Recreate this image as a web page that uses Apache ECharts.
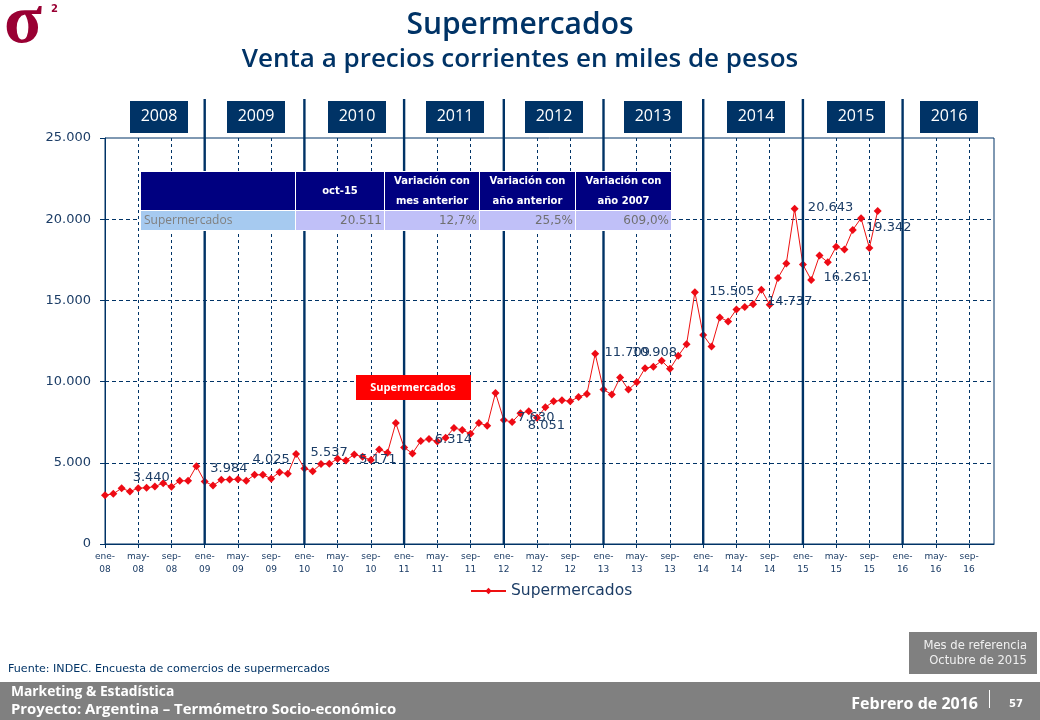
<!DOCTYPE html>
<html><head><meta charset="utf-8">
<style>html,body{margin:0;padding:0;background:#fff}#c{width:1040px;height:720px}</style>
<script src="https://cdn.jsdelivr.net/npm/echarts@6/dist/echarts.min.js"></script>
</head><body><div id="c"></div>
<script>
const monthNames = ['ene','feb','mar','abr','may','jun','jul','ago','sep','oct','nov','dic'];
const firstYear = 2008, yearCount = 9;
const yearLabels = ['2008','2009','2010','2011','2012','2013','2014','2015','2016'];
const values2008 = [3005,3087,3437,3231,3440,3457,3540,3745,3519,3890,3890,4795];
const values2009 = [3848,3600,3951,3972,3984,3890,4260,4260,4025,4425,4322,5537];
const values2010 = [4651,4486,4919,4939,5248,5145,5515,5371,5171,5824,5618,7450];
const values2011 = [5948,5577,6339,6462,6314,6544,7141,7018,6791,7450,7285,9302];
const values2012 = [7630,7512,8051,8170,7779,8417,8788,8849,8788,9055,9240,11709];
const values2013 = [9508,9199,10249,9508,9961,10825,10908,11278,10784,11587,12307,15505];
const values2014 = [12862,12163,13953,13706,14447,14591,14756,15661,14737,16382,17267,20643];
const values2015 = [17205,16261,17761,17349,18296,18131,19342,20066,18234,20511];
const labelledMonths = [4,16,20,23,32,40,48,50,59,66,71,80,83,85,90];
const labelOffsets = [[13,-11],[-9,-11],[0,-19],[33,-1],[7,0],[16,-2],[32,-2],[26,12],[32,-1],[1,-14],[37,-1],[20,-3],[36,-1],[35,-2],[36,-2]];
const tableHeaders = ['', 'oct-15', 'Variación con\nmes anterior', 'Variación con\naño anterior', 'Variación con\naño 2007'];
const tableRow = ['Supermercados', '20.511', '12,7%', '25,5%', '609,0%'];

const seriesName = 'Supermercados';
const NAVY = '#003366';
const fmt = v => String(v).replace(/\B(?=(\d{3})+(?!\d))/g, '.');
const categories = [];
for (let i = 0; i < yearCount * 12; i++) {
  categories.push(monthNames[i % 12] + '-\n' + String(firstYear + Math.floor(i / 12)).slice(2));
}
const allValues = [].concat(values2008, values2009, values2010, values2011, values2012, values2013, values2014, values2015);
const seriesData = allValues.map((v, i) => {
  const k = labelledMonths.indexOf(i);
  if (k < 0) return v;
  return { value: v, label: { show: true, position: 'inside', offset: labelOffsets[k], formatter: fmt(v),
    color: '#1c3d66', fontFamily: 'DejaVu Sans', fontSize: 13 } };
});
const yearStarts = [];
for (let i = 1; i < yearCount; i++) yearStarts.push([i * 12]);

const g = [];
const rect = (x, y, w, h, fill, z) => g.push({ type: 'rect', z: z || 100, silent: true, shape: { x, y, width: w, height: h }, style: { fill } });
const text = (t, x, y, font, fill, align, z, lh) => g.push({ type: 'text', z: z || 110, silent: true, x, y,
  style: { text: t, font, fill, align: align || 'left', verticalAlign: 'middle', lineHeight: lh } });

// logo
text('σ', 4, 24, 'bold 70px "Liberation Serif"', '#990033');
text('2', 51, 9, 'bold 10px "DejaVu Sans"', '#990033');
// titles
text('Supermercados', 520, 25, '600 30px "Open Sans"', NAVY, 'center');
text('Venta a precios corrientes en miles de pesos', 520, 60, '600 26px "Open Sans"', NAVY, 'center');
// year boxes
const yearBoxX = [130,227,328,426,525,624,727,827,920];
yearLabels.forEach((y, i) => {
  rect(yearBoxX[i], 101, 58, 32, NAVY);
  text(y, yearBoxX[i] + 29, 116, '16px "Open Sans"', '#fff', 'center');
});
// table
rect(140, 171, 532, 60, '#fff', 90);
const colX = [141,296,385,480,576], colW = [154,88,94,95,95];
const rowFill = ['#a6caf0','#c0c0f8','#c0c0f8','#c0c0f8','#c0c0f8'];
colX.forEach((x, i) => {
  rect(x, 172, colW[i], 38, '#000080');
  rect(x, 211, colW[i], 19, rowFill[i]);
  if (tableHeaders[i]) text(tableHeaders[i], x + colW[i] / 2, 191, 'bold 10px "DejaVu Sans"', '#fff', 'center', 110, 20);
  if (i === 0) text(tableRow[i], x + 3, 221, '12px "Open Sans"', '#808080');
  else text(tableRow[i], x + colW[i] - 2, 221, '12px "DejaVu Sans"', '#707070', 'right');
});
// red tag
rect(356, 375, 115, 25, '#ff0000');
text('Supermercados', 413, 388, 'bold 11px "Open Sans"', '#fff', 'center');
// source
text('Fuente: INDEC. Encuesta de comercios de supermercados', 8, 669, '11.1px "DejaVu Sans"', NAVY);
// reference box
rect(909, 632, 128, 42, '#808080');
text('Mes de referencia', 1027, 646, '11.6px "DejaVu Sans"', '#f0f0f0', 'right');
text('Octubre de 2015', 1027, 661, '11.6px "DejaVu Sans"', '#f0f0f0', 'right');
// footer
rect(0, 682, 1040, 38, '#808080');
text('Marketing & Estadística', 11, 692, 'bold 13.8px "Open Sans"', '#fff');
text('Proyecto: Argentina – Termómetro Socio-económico', 11, 710, 'bold 14.9px "Open Sans"', '#fff');
text('Febrero de 2016', 978, 704, 'bold 16px "Open Sans"', '#fff', 'right');
rect(989, 690, 1, 18, '#fff', 105);
text('57', 1016, 704, 'bold 10px "DejaVu Sans"', '#fff', 'center');

const chart = echarts.init(document.getElementById('c'), null, { renderer: 'canvas' });
chart.setOption({
  animation: false,
  backgroundColor: '#fff',
  grid: { left: 105, right: 46, top: 138, bottom: 176, show: true, borderColor: NAVY, borderWidth: 1, backgroundColor: 'transparent' },
  legend: { show: true, left: 465, top: 578, itemWidth: 35, itemHeight: 8, itemGap: 4,
    textStyle: { color: '#1c3d66', fontFamily: 'DejaVu Sans', fontSize: 15.5, padding: [1, 0, 0, 0] },
    data: [seriesName] },
  xAxis: {
    type: 'category', data: categories, boundaryGap: false,
    axisLine: { lineStyle: { color: NAVY, width: 1 } },
    axisTick: { interval: 3, length: 4, lineStyle: { color: NAVY } },
    axisLabel: { interval: 3, color: '#1c3d66', fontFamily: 'DejaVu Sans', fontSize: 9, lineHeight: 13, margin: 6, hideOverlap: false },
    splitLine: { show: true, interval: 3, showMinLine: false, lineStyle: { color: NAVY, type: [3, 3], width: 1 } }
  },
  yAxis: {
    type: 'value', min: 0, max: 25000, interval: 5000,
    axisLine: { show: true, lineStyle: { color: NAVY, width: 1 } },
    axisTick: { show: true, length: 5, lineStyle: { color: NAVY } },
    axisLabel: { color: '#1c3d66', fontFamily: 'DejaVu Sans', fontSize: 13, margin: 14, formatter: fmt },
    splitLine: { show: true, showMinLine: false, showMaxLine: false, lineStyle: { color: NAVY, type: [4, 3], width: 1 } }
  },
  series: [
    { name: seriesName, type: 'line', z: 3, data: seriesData, symbol: 'diamond', symbolSize: 8, showSymbol: true, showAllSymbol: true,
      lineStyle: { color: '#ee1111', width: 1 }, itemStyle: { color: '#ee0a14' } },
    { name: 'years', type: 'custom', z: 4, clip: false, silent: true, data: yearStarts, encode: { x: 0 },
      renderItem(params, api) {
        const p = api.coord([api.value(0), 0]);
        return { type: 'line', shape: { x1: p[0], y1: p[1], x2: p[0], y2: params.coordSys.y - 39 },
          style: { stroke: NAVY, lineWidth: 2.4 } };
      } }
  ],
  graphic: { elements: g }
});
</script></body></html>
